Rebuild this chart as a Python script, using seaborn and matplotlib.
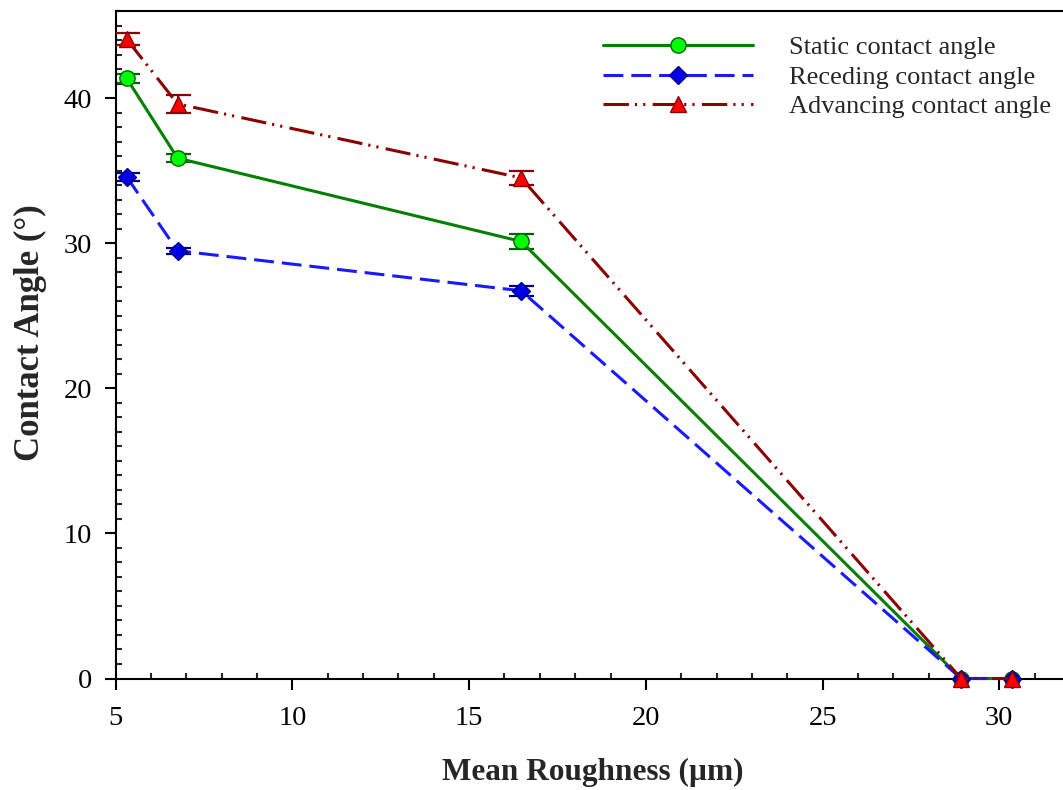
import numpy as np
import pandas as pd
import matplotlib
matplotlib.use("Agg")
import matplotlib.pyplot as plt
from matplotlib.ticker import MultipleLocator
import seaborn as sns

# ---- data ----
roughness = [5.31, 6.75, 16.47, 28.92, 30.36]
static_angle = [41.36, 35.86, 30.12, 0.0, 0.0]
static_err = [0.3, 0.3, 0.5, 0.0, 0.0]
receding_angle = [34.57, 29.48, 26.72, 0.0, 0.0]
receding_err = [0.3, 0.2, 0.35, 0.0, 0.0]
advancing_angle = [44.06, 39.60, 34.50, 0.0, 0.0]
advancing_err = [0.4, 0.6, 0.5, 0.0, 0.0]
labels = ["Static contact angle", "Receding contact angle", "Advancing contact angle"]

sns.set_style("ticks")
plt.rcParams["font.family"] = ["Liberation Serif", "DejaVu Serif"]

fig = plt.figure(figsize=(10.63, 7.9), dpi=100)
ax = fig.add_axes([115.7 / 1063, (790 - 678.5) / 790, (1070 - 115.7) / 1063, (678.5 - 11) / 790])

series = [
    dict(y=static_angle, e=static_err, label=labels[0], color="#008000", mfc="#00ff00",
         mec="#006400", marker="o", ms=11, ls="-"),
    dict(y=receding_angle, e=receding_err, label=labels[1], color="#1a1aff", mfc="#0000e6",
         mec="#00008b", marker="D", ms=9.5, ls=(0, (6.5, 2.6))),
    dict(y=advancing_angle, e=advancing_err, label=labels[2], color="#8b0000", mfc="#ff0000",
         mec="#8b0000", marker="^", ms=12, ls=(0, (8.3, 2.0, 0.7, 2.0, 0.7, 2.4))),
]

for i, s in enumerate(series):
    df = pd.DataFrame({"x": roughness, "y": s["y"]})
    sns.lineplot(data=df, x="x", y="y", ax=ax, color=s["color"], linewidth=2.2,
                 linestyle=s["ls"], marker=s["marker"], markersize=s["ms"],
                 markerfacecolor=s["mfc"], markeredgecolor=s["mec"], markeredgewidth=1.0,
                 errorbar=None, clip_on=False, zorder=3 + i, label=s["label"])
    x = np.array(roughness)
    y = np.array(s["y"])
    e = np.array(s["e"])
    m = e > 0
    ax.errorbar(x[m], y[m], yerr=e[m], fmt="none", ecolor=s["mec"], elinewidth=1.5,
                capsize=9, capthick=1.6, zorder=2.5 + i)

handles, labs = ax.get_legend_handles_labels()
ax.legend(handles, labs, loc="upper left", bbox_to_anchor=(603 / 1063, 1 - 36 / 790),
          bbox_transform=fig.transFigure, frameon=False, fontsize=19,
          handlelength=5.7, handletextpad=1.33, labelspacing=0.22, borderpad=0.0,
          numpoints=1, borderaxespad=0)

ax.set_xlim(5, 32)
ax.set_ylim(0, 46)
ax.xaxis.set_major_locator(MultipleLocator(5))
ax.xaxis.set_minor_locator(MultipleLocator(1))
ax.yaxis.set_major_locator(MultipleLocator(10))
ax.yaxis.set_minor_locator(MultipleLocator(1))
ax.tick_params(which="major", direction="out", length=8, width=1.5, labelsize=20.5,
               colors="black")
ax.tick_params(axis="x", which="major", pad=12)
ax.tick_params(axis="y", which="major", pad=9)
ax.tick_params(which="minor", direction="in", length=4.5, width=1.5)
ax.tick_params(top=False, right=False, which="both")
for sp in ax.spines.values():
    sp.set_linewidth(1.5)
    sp.set_color("black")
    sp.set_visible(True)

ax.set_xlabel("Mean Roughness (µm)", fontsize=22.5, fontweight="bold", labelpad=19)
ax.set_ylabel("Contact Angle (°)", fontsize=25, fontweight="bold")
ax.yaxis.set_label_coords((47 - 115.7) / 954.3, (678.5 - 333) / 667.5)

fig.savefig("out.png", dpi=100)
